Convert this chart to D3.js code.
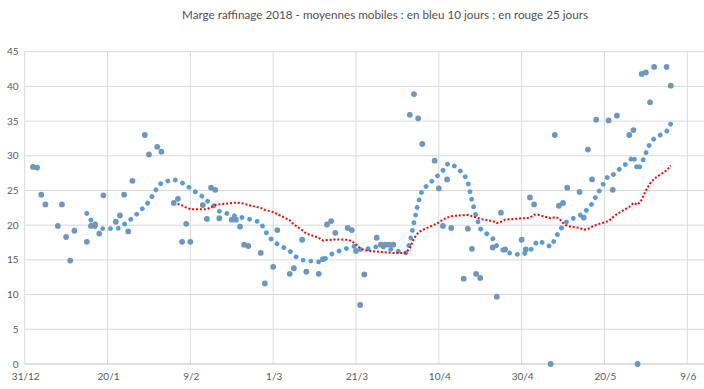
<!DOCTYPE html>
<html>
<head>
  <script src="https://d3js.org/d3.v7.min.js"></script>
  <title>Marge raffinage 2018</title>
  <style>
  body {
    margin: 0;
    background: white;
    font-family: Lato, "Liberation Sans", sans-serif;
  }
  </style>
</head>
<body>
<svg id="chart" width="704" height="389"></svg>
<script>
// trading days
var dates = [
  "2018-01-02","2018-01-03","2018-01-04","2018-01-05","2018-01-08","2018-01-09","2018-01-10","2018-01-11","2018-01-12",
  "2018-01-15","2018-01-16","2018-01-17","2018-01-18","2018-01-19","2018-01-22","2018-01-23","2018-01-24","2018-01-25","2018-01-26",
  "2018-01-29","2018-01-30","2018-02-01","2018-02-02","2018-02-05","2018-02-06","2018-02-07","2018-02-08","2018-02-09",
  "2018-02-12","2018-02-13","2018-02-14","2018-02-15","2018-02-16","2018-02-19","2018-02-20","2018-02-21","2018-02-22","2018-02-23",
  "2018-02-26","2018-02-27","2018-03-01","2018-03-02","2018-03-05","2018-03-06","2018-03-08","2018-03-09",
  "2018-03-12","2018-03-13","2018-03-14","2018-03-15","2018-03-16","2018-03-19","2018-03-20","2018-03-21","2018-03-22","2018-03-23",
  "2018-03-26","2018-03-27","2018-03-28","2018-03-29","2018-03-30","2018-04-02","2018-04-03","2018-04-04","2018-04-05","2018-04-06",
  "2018-04-09","2018-04-10","2018-04-11","2018-04-12","2018-04-13","2018-04-16","2018-04-17","2018-04-18","2018-04-19","2018-04-20",
  "2018-04-23","2018-04-24","2018-04-25","2018-04-26","2018-04-30","2018-05-01","2018-05-02","2018-05-03","2018-05-04",
  "2018-05-07","2018-05-08","2018-05-09","2018-05-10","2018-05-11","2018-05-14","2018-05-15","2018-05-16","2018-05-17","2018-05-18",
  "2018-05-21","2018-05-22","2018-05-23","2018-05-26","2018-05-27","2018-05-28","2018-05-29","2018-05-30","2018-05-31","2018-06-01",
  "2018-06-04","2018-06-05"
];

// daily margin
var daily = [
  28.4, 28.3, 24.4, 23.0, 19.9, 23.0, 18.3, 14.9, 19.2,
  17.6, 19.9, 20.1, 18.8, 24.3, 20.5, 21.4, 24.4, 19.1, 26.4,
  33.0, 30.2, 31.3, 30.6, 23.2, 23.8, 17.6, 20.2, 17.6,
  22.9, 20.9, 25.4, 25.1, 21.0, 20.8, 20.8, 19.8, 17.2, 17.0,
  16.0, 11.6, 14.0, 19.3, 13.0, 13.8, 17.9, 13.3,
  13.0, 15.1, 20.1, 20.6, 18.9, 19.6, 19.3, 16.3, 8.5, 12.9,
  18.2, 17.2, 17.2, 17.2, 17.2, null, 35.9, 38.9, 35.4, 31.7,
  29.3, 25.3, 19.9, 26.6, 19.6, 12.3, 19.5, 16.6, 13.0, 12.4,
  16.8, 9.7, 21.8, 16.5, 17.9, 16.5, 24.0, 23.0, null,
  0.0, 33.0, 22.8, 23.2, 25.4, 24.8, 21.1, 30.9, 26.6, 35.2,
  35.1, 25.1, 35.8, 33.0, 33.7, 0.0, 41.8, 42.0, 37.7, 42.8,
  42.8, 40.1
];

// 10 day moving average (blue)
var ma10 = [
  null, null, null, null, null, null, null, null, null,
  21.7, 20.7, 19.8, 19.6, 19.5, 19.5, 19.6, 20.1, 20.6, 21.0,
  22.7, 23.4, 25.4, 26.1, 26.6, 26.4, 26.1, 25.8, 25.3,
  24.1, 23.5, 23.2, 22.6, 22.0, 21.5, 21.3, 21.2, 21.0, 20.9,
  20.4, 19.2, 17.6, 17.3, 16.3, 15.6, 15.0, 14.9,
  14.7, 14.9, 15.4, 15.8, 16.1, 16.7, 16.9, 17.0, 16.5, 16.5,
  16.9, 17.0, 16.8, 16.6, 16.4, 16.0, 17.4, 20.4, 23.2, 25.1,
  26.7, 27.3, 27.9, 28.8, 28.9, 27.4, 26.3, 23.5, 21.3, 19.5,
  18.1, 17.0, 16.7, 16.1, 15.7, 16.0, 16.3, 17.1, 17.8,
  16.9, 17.9, 19.1, 19.9, 20.6, 21.4, 21.7, 22.4, 23.1, 24.2,
  27.2, 27.2, 27.8, 29.2, 30.0, 27.9, 28.9, 30.4, 31.8, 32.5,
  33.5, 34.6
];

// 25 day moving average (red)
var ma25 = [
  null, null, null, null, null, null, null, null, null,
  null, null, null, null, null, null, null, null, null, null,
  null, null, null, null, 23.2, 23.05, 22.85, 22.55, 22.3,
  22.3, 22.3, 22.6, 22.9, 23.0, 23.2, 23.25, 23.2, 23.1, 22.9,
  22.5, 22.2, 21.9, 21.6, 20.7, 20.1, 19.3, 18.8,
  18.2, 17.8, 17.85, 17.9, 17.95, 17.9, 17.7, 17.2, 16.7, 16.4,
  16.2, 16.15, 16.1, 16.05, 16.0, 16.0, 16.7, 18.1, 18.9, 19.3,
  20.1, 20.4, 20.8, 21.1, 21.3, 21.45, 21.5, 21.3, 21.15, 20.9,
  20.6, 20.3, 20.5, 20.8, 21.0, 21.0, 21.1, 21.5, 21.5,
  21.0, 21.15, 21.0, 20.3, 19.9, 19.6, 19.35, 19.45, 19.8, 20.05,
  20.6, 21.1, 21.6, 22.65, 23.2, 22.95, 23.7, 25.0, 26.0, 26.7,
  27.9, 28.6
];

var xTicks = ["2017-12-31","2018-01-20","2018-02-09","2018-03-01","2018-03-21","2018-04-10","2018-04-30","2018-05-20","2018-06-09"];
var yTicks = [0, 5, 10, 15, 20, 25, 30, 35, 40, 45];

var parse = d3.utcParse("%Y-%m-%d");
var fmt = d3.utcFormat("%-d/%-m");

var plotLeft = 24.7, plotRight = 704, plotTop = 51.7, plotBottom = 364;

var xs = d3.scaleUtc().domain([parse(xTicks[0]), parse(xTicks[xTicks.length - 1])]).range([plotLeft, 687.3]);
var ys = d3.scaleLinear().domain([0, 45]).range([plotBottom, plotTop]);

var rows = dates.map(function(d, i) {
  return {date: parse(d), daily: daily[i], ma10: ma10[i], ma25: ma25[i]};
});

var svg = d3.select("#chart");

// title
svg.append("text")
  .attr("x", 385)
  .attr("y", 19)
  .attr("text-anchor", "middle")
  .style("font-size", "11.7px")
  .style("fill", "#505050")
  .text("Marge raffinage 2018 - moyennes mobiles : en bleu 10 jours ; en rouge 25 jours");

// grid
svg.append("g").selectAll("line").data(yTicks.slice(1)).enter().append("line")
  .attr("x1", plotLeft).attr("x2", plotRight)
  .attr("y1", function(d) { return ys(d); })
  .attr("y2", function(d) { return ys(d); })
  .style("stroke", "#d9d9d9")
  .style("stroke-width", 1);

svg.append("g").selectAll("line").data(xTicks).enter().append("line")
  .attr("x1", function(d) { return xs(parse(d)); })
  .attr("x2", function(d) { return xs(parse(d)); })
  .attr("y1", plotTop).attr("y2", plotBottom)
  .style("stroke", "#d9d9d9")
  .style("stroke-width", 1);

// bottom axis line
svg.append("line")
  .attr("x1", plotLeft).attr("x2", plotRight)
  .attr("y1", ys(0)).attr("y2", ys(0))
  .style("stroke", "#bfbfbf")
  .style("stroke-width", 1);

// axis labels
svg.append("g").selectAll("text").data(yTicks).enter().append("text")
  .attr("x", 18.5)
  .attr("y", function(d) { return ys(d); })
  .attr("dy", "0.35em")
  .attr("text-anchor", "end")
  .style("font-size", "10px")
  .style("fill", "#595959")
  .text(function(d) { return d; });

svg.append("g").selectAll("text").data(xTicks).enter().append("text")
  .attr("x", function(d) { return xs(parse(d)) + 1; })
  .attr("y", 379.5)
  .attr("text-anchor", "middle")
  .style("font-size", "10px")
  .style("fill", "#595959")
  .text(function(d) { return fmt(parse(d)); });

// moving averages
function lineFor(key) {
  return d3.line()
    .defined(function(d) { return d[key] != null; })
    .x(function(d) { return xs(d.date); })
    .y(function(d) { return ys(d[key]); });
}

svg.append("path")
  .datum(rows)
  .attr("d", lineFor("ma10"))
  .style("fill", "none")
  .style("stroke", "#5b9bd5")
  .style("stroke-width", 4.8)
  .style("stroke-linecap", "round")
  .style("stroke-dasharray", "0.01,7.8");

svg.append("path")
  .datum(rows)
  .attr("d", lineFor("ma25"))
  .style("fill", "none")
  .style("stroke", "#ff0000")
  .style("stroke-width", 2)
  .style("stroke-dasharray", "2,1.9");

// daily points
svg.append("g").selectAll("circle")
  .data(rows.filter(function(d) { return d.daily != null; }))
  .enter().append("circle")
  .attr("cx", function(d) { return xs(d.date); })
  .attr("cy", function(d) { return ys(d.daily); })
  .attr("r", 2.0)
  .style("fill", "#e07b39")
  .style("stroke", "#5b9bd5")
  .style("stroke-width", 1.8);
</script>
</body>
</html>
